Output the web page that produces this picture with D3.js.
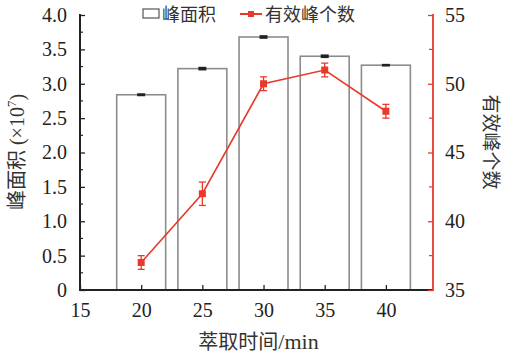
<!DOCTYPE html>
<html><head><meta charset="utf-8">
<script src="https://cdn.jsdelivr.net/npm/d3@7"></script>
<style>body{margin:0;background:#fff}svg{display:block}
.serif, .tick text{font-family:"Liberation Serif","DejaVu Serif","Times New Roman",serif !important}
.cjk{font-family:"Noto Sans CJK SC","Noto Sans",sans-serif}
</style>
</head><body>
<svg id="c" width="506" height="359"></svg>
<script>
const times = [20, 25, 30, 35, 40];
const peakArea = [2.84, 3.22, 3.68, 3.40, 3.27];
const peakAreaErr = [0.01, 0.015, 0.015, 0.015, 0.008];
const peakCount = [37.0, 42.0, 50.0, 51.0, 48.0];
const peakCountErr = [0.5, 0.85, 0.5, 0.5, 0.5];
const xTicks = [15, 20, 25, 30, 35, 40];
const yLeftTicks = [0, 0.5, 1.0, 1.5, 2.0, 2.5, 3.0, 3.5, 4.0];
const yRightTicks = [35, 40, 45, 50, 55];

const svg = d3.select("#c");
const L = 80, R = 433, T = 15, B = 290;
const x = d3.scaleLinear().domain([15, 43.85]).range([L, R]);
const yL = d3.scaleLinear().domain([0, 4]).range([B, T]);
const yR = d3.scaleLinear().domain([35, 55]).range([B, T]);
const red = "#e8392b";
const serifStack = '"Liberation Serif","DejaVu Serif",serif';

// bars
svg.append("g").selectAll("rect").data(times).join("rect")
  .attr("x", (d) => x(d - 2)).attr("width", (d) => x(d + 2) - x(d - 2))
  .attr("y", (d, i) => yL(peakArea[i])).attr("height", (d, i) => B - yL(peakArea[i]))
  .attr("fill", "#fff").attr("stroke", "#8c8c8c").attr("stroke-width", 1.6);
// bar error bars
const be = svg.append("g");
times.forEach((t, i) => {
  const cx = x(t);
  const y1 = yL(peakArea[i] + peakAreaErr[i]) - 0.8, y2 = yL(peakArea[i] - peakAreaErr[i]) + 0.8;
  be.append("rect").attr("x", cx - 4).attr("width", 8).attr("y", y1).attr("height", Math.max(1.5, y2 - y1)).attr("fill", "#222");
});

function styleAxis(g) {
  g.attr("font-family", serifStack).attr("font-size", 20);
  g.selectAll(".tick text").attr("font-family", serifStack).attr("font-size", 20).attr("fill", "#222");
}

// left axis
const axL = d3.axisLeft(yL).tickValues(yLeftTicks).tickSize(-5).tickPadding(13)
  .tickFormat((d) => d === 0 ? "0" : d3.format(".1f")(d));
const gL = svg.append("g").attr("transform", `translate(${L},0)`).call(axL);
gL.select(".domain").remove();
gL.append("line").attr("y1", T - 1).attr("y2", B + 1).attr("stroke", "#222").attr("stroke-width", 2);
gL.selectAll(".tick line").attr("stroke", "#222").attr("stroke-width", 1.3);
styleAxis(gL);
d3.range(0.25, 4, 0.5).forEach((v) => gL.append("line").attr("x1", 0).attr("x2", 3).attr("y1", yL(v)).attr("y2", yL(v)).attr("stroke", "#222").attr("stroke-width", 1.2));

// bottom axis
const axB = d3.axisBottom(x).tickValues(xTicks).tickSize(-5).tickPadding(13).tickFormat(d3.format("d"));
const gB = svg.append("g").attr("transform", `translate(0,${B})`).call(axB);
gB.select(".domain").remove();
gB.append("line").attr("x1", L - 1).attr("x2", R).attr("stroke", "#222").attr("stroke-width", 2);
gB.selectAll(".tick line").attr("stroke", "#222").attr("stroke-width", 1.3);
styleAxis(gB);

// right axis
const axR = d3.axisRight(yR).tickValues(yRightTicks).tickSize(-5).tickPadding(12);
const gR = svg.append("g").attr("transform", `translate(${R},0)`).call(axR);
gR.select(".domain").remove();
gR.append("line").attr("y1", T - 1).attr("y2", B + 1).attr("stroke", red).attr("stroke-width", 1.8);
gR.selectAll(".tick line").attr("stroke", red).attr("stroke-width", 1.3);
styleAxis(gR);
d3.range(37.5, 55, 5).forEach((v) => gR.append("line").attr("x1", 0).attr("x2", -4).attr("y1", yR(v)).attr("y2", yR(v)).attr("stroke", red).attr("stroke-width", 1.2));

// line series
const line = d3.line().x((d, i) => x(times[i])).y((d) => yR(d));
svg.append("path").datum(peakCount).attr("d", line).attr("fill", "none").attr("stroke", red).attr("stroke-width", 1.6);
const le = svg.append("g").attr("stroke", red).attr("stroke-width", 1.3);
times.forEach((t, i) => {
  const cx = x(t), y1 = yR(peakCount[i] + peakCountErr[i]), y2 = yR(peakCount[i] - peakCountErr[i]);
  le.append("line").attr("x1", cx).attr("x2", cx).attr("y1", y1).attr("y2", y2);
  le.append("line").attr("x1", cx - 3.5).attr("x2", cx + 3.5).attr("y1", y1).attr("y2", y1);
  le.append("line").attr("x1", cx - 3.5).attr("x2", cx + 3.5).attr("y1", y2).attr("y2", y2);
});
svg.append("g").selectAll("rect").data(peakCount).join("rect")
  .attr("x", (d, i) => x(times[i]) - 3.5).attr("y", (d) => yR(d) - 3.5)
  .attr("width", 7).attr("height", 7).attr("fill", red);

// legend
const lg = svg.append("g");
lg.append("rect").attr("x", 143).attr("y", 9).attr("width", 16).attr("height", 9).attr("fill", "#fff").attr("stroke", "#555").attr("stroke-width", 1.2);
lg.append("text").attr("class", "cjk").attr("x", 162).attr("y", 21).text("峰面积").attr("font-size", 18).attr("fill", "#333");
lg.append("line").attr("x1", 240).attr("x2", 262).attr("y1", 14).attr("y2", 14).attr("stroke", red).attr("stroke-width", 2);
lg.append("rect").attr("x", 248).attr("y", 11).attr("width", 6).attr("height", 6).attr("fill", red);
lg.append("text").attr("class", "cjk").attr("x", 265).attr("y", 21).text("有效峰个数").attr("font-size", 18).attr("fill", "#333");

// axis titles
svg.append("text").attr("x", (L + R) / 2 + 2).attr("y", 349).attr("text-anchor", "middle")
  .attr("font-size", 20).attr("fill", "#333")
  .call((t) => { t.append("tspan").attr("class", "cjk").text("萃取时间"); t.append("tspan").attr("class", "serif").attr("font-size", 22).text("/min"); });
const yt = svg.append("text").attr("transform", `translate(24,152) rotate(-90)`).attr("text-anchor", "middle").attr("fill", "#333").attr("font-size", 20);
yt.append("tspan").attr("class", "cjk").text("峰面积");
yt.append("tspan").attr("class", "serif").text(" (×10");
yt.append("tspan").attr("class", "serif").attr("font-size", 13).attr("dy", -8).text("7");
yt.append("tspan").attr("class", "serif").attr("dy", 8).text(")");
svg.append("text").attr("class", "cjk").attr("transform", `translate(484,142) rotate(90)`).attr("text-anchor", "middle")
  .attr("font-size", 19).attr("fill", "#333").text("有效峰个数");
</script>
</body></html>
